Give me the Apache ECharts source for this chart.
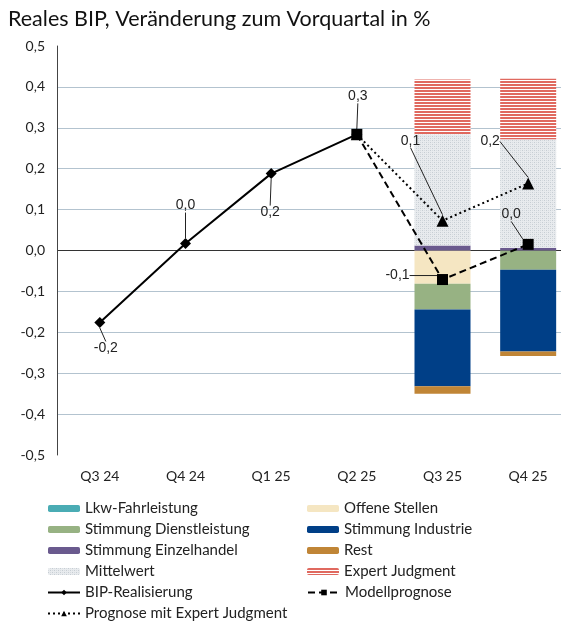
<!DOCTYPE html>
<html><head><meta charset="utf-8">
<script src="https://cdn.jsdelivr.net/npm/echarts@6/dist/echarts.min.js"></script>
<style>html,body{margin:0;padding:0;background:#fff}#c{width:561px;height:622px}</style>
</head><body><div id="c"></div>
<script>
const categories = ['Q3 24','Q4 24','Q1 25','Q2 25','Q3 25','Q4 25'];
const lkwFahrleistung = [null,null,null,null,0,0];
const offeneStellen = [null,null,null,null,-0.081,0];
const stimmungDienstleistung = [null,null,null,null,-0.063,-0.047];
const stimmungIndustrie = [null,null,null,null,-0.188,-0.200];
const stimmungEinzelhandel = [null,null,null,null,0.012,0.006];
const rest = [null,null,null,null,-0.018,-0.011];
const mittelwert = [null,null,null,null,0.272,0.266];
const expertJudgment = [null,null,null,null,0.134,0.148];
const bipRealisierung = [-0.176,0.017,0.188,0.284,null,null];
const modellprognose = [null,null,null,0.284,-0.071,0.015];
const prognoseExpert = [null,null,null,0.284,0.073,0.164];
const yMin = -0.5, yMax = 0.5, yStep = 0.1;

const fmt = v => (Math.round(v*10)/10).toFixed(1).replace('.', ',').replace(/^-0,0$/, '0,0');

function makePattern(w,h,draw){const c=document.createElement('canvas');c.width=w;c.height=h;const g=c.getContext('2d');draw(g);return {image:c,repeat:'repeat'};}
const dotPattern = makePattern(4,4,g=>{g.fillStyle='#e8ebee';g.fillRect(0,0,4,4);g.fillStyle='#c6cdd3';g.fillRect(0,0,1,1);g.fillRect(2,2,1,1);g.fillStyle='#d6dbdf';g.fillRect(2,0,1,1);g.fillRect(0,2,1,1);});
const stripePattern = makePattern(4,3,g=>{g.fillStyle='#ffffff';g.fillRect(0,0,4,3);g.fillStyle='#e0695f';g.fillRect(0,0,4,2);});

const chart = echarts.init(document.getElementById('c'), null, {renderer:'canvas'});

function bar(name, data, color){
  return {name, type:'bar', stack:'total', data, barWidth:56, itemStyle:{color}, emphasis:{disabled:true}};
}
const labelBase = {show:true, position:'inside', fontFamily:'Liberation Sans', fontSize:14, color:'#222', formatter:p=>fmt(p.value)};
const lineLabel = {show:true, lineStyle:{color:'#222', width:1}};
function pickLabels(arr, showIdx){
  return arr.map((v,i)=> v==null ? null : ({value:v, label:{show: showIdx.includes(i)}, labelLine:{show: showIdx.includes(i)}}));
}
const bipOff = {0:{dx:6,dy:26},1:{dx:0,dy:-38},2:{dx:-1,dy:39},3:{dx:1,dy:-38}};
const modOff = {4:{dx:-45,dy:-4},5:{dx:-17,dy:-30}};
const expOff = {4:{dx:-32,dy:-80},5:{dx:-38,dy:-42}};

chart.setOption({
  animation:false,
  title:{text:'Reales BIP, Veränderung zum Vorquartal in %', left:8, top:8, padding:0, textStyle:{fontFamily:'Lato', fontSize:21.5, fontWeight:'normal', color:'#111'}},
  grid:{left:57, width:514, top:46, bottom:167, containLabel:false, outerBoundsMode:'none'},
  xAxis:{type:'category', data:categories, axisLine:{show:false}, axisTick:{show:false},
    axisLabel:{margin:14, fontFamily:'Lato', fontSize:14, color:'#222'}},
  yAxis:{type:'value', min:yMin, max:yMax, interval:yStep,
    axisLine:{show:true, lineStyle:{color:'#444', width:1}}, axisTick:{show:false},
    axisLabel:{margin:12, fontFamily:'Lato', fontSize:14, color:'#222', formatter:v=>fmt(v)},
    splitLine:{show:true, lineStyle:{width:1, color:['rgba(0,0,0,0)','#b3c3cf','#b3c3cf','#b3c3cf','#b3c3cf','#333333','#b3c3cf','#b3c3cf','#b3c3cf','#b3c3cf','rgba(0,0,0,0)']}}},
  legend:{left:47, top:498, width:520, padding:0, orient:'horizontal', itemWidth:32, itemHeight:7, itemGap:0, selectedMode:false,
    textStyle:{fontFamily:'Lato', fontSize:15, color:'#222', width:222, lineHeight:21},
    data:['Lkw-Fahrleistung','Offene Stellen','Stimmung Dienstleistung','Stimmung Industrie','Stimmung Einzelhandel','Rest','Mittelwert','Expert Judgment','BIP-Realisierung','Modellprognose','Prognose mit Expert Judgment']},
  series:[
    bar('Lkw-Fahrleistung', lkwFahrleistung, '#4aacb4'),
    bar('Offene Stellen', offeneStellen, '#f5e6c2'),
    bar('Stimmung Dienstleistung', stimmungDienstleistung, '#97b283'),
    bar('Stimmung Industrie', stimmungIndustrie, '#003f87'),
    bar('Stimmung Einzelhandel', stimmungEinzelhandel, '#6a5a8e'),
    bar('Rest', rest, '#c08536'),
    bar('Mittelwert', mittelwert, dotPattern),
    bar('Expert Judgment', expertJudgment, stripePattern),
    {name:'BIP-Realisierung', type:'line', data:bipRealisierung, symbol:'diamond', symbolSize:11, z:5,
      itemStyle:{color:'#000'}, lineStyle:{color:'#000', width:2}, label:labelBase, labelLine:lineLabel,
      labelLayout:p=>bipOff[p.dataIndex]||{}, emphasis:{disabled:true}},
    {name:'Modellprognose', type:'line', data:pickLabels(modellprognose,[4,5]), symbol:'rect', symbolSize:11, z:7,
      itemStyle:{color:'#000'}, lineStyle:{color:'#000', width:2, type:[7,4]}, label:labelBase, labelLine:lineLabel,
      labelLayout:p=>modOff[p.dataIndex]||{}, emphasis:{disabled:true}},
    {name:'Prognose mit Expert Judgment', type:'line', data:pickLabels(prognoseExpert,[4,5]), symbol:'triangle', symbolSize:12, z:6,
      itemStyle:{color:'#000'}, lineStyle:{color:'#000', width:2, type:[2,3]}, label:labelBase, labelLine:lineLabel,
      labelLayout:p=>expOff[p.dataIndex]||{}, emphasis:{disabled:true}}
  ]
});
</script></body></html>
